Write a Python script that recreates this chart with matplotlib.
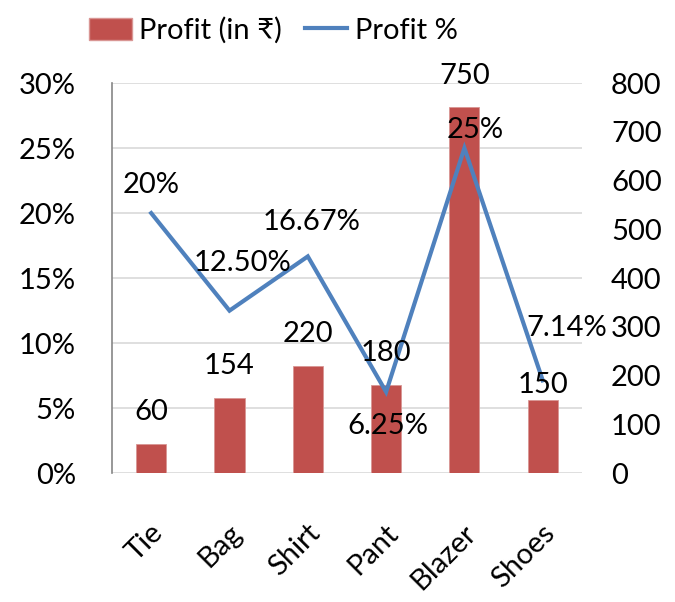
import matplotlib.pyplot as plt
import matplotlib.transforms as mtransforms
from matplotlib.patches import Patch
from matplotlib.lines import Line2D

# ---- data ----
items = ["Tie", "Bag", "Shirt", "Pant", "Blazer", "Shoes"]
profit_rs = [60, 154, 220, 180, 750, 150]
profit_pct = [20, 12.5, 16.67, 6.25, 25, 7.14]
pct_labels = ["20%", "12.50%", "16.67%", "6.25%", "25%", "7.14%"]

pct_ticks = [0, 5, 10, 15, 20, 25, 30]
rs_ticks = [0, 100, 200, 300, 400, 500, 600, 700, 800]

# label offsets in pixels (dx, dy) -- hand placed like the original
BAR_OFFS = [(0, 32), (0, 32), (0, 32), (0, 32), (0, 31), (0, 15)]
PCT_OFFS = [(0, 28), (13, 48), (4, 34), (2, -34), (11, 18), (24, 52)]

BAR_C = "#C0504D"
LINE_C = "#4F81BD"
GRID_C = "#D9D9D9"
FS = 21

plt.rcParams["font.family"] = ["Lato", "DejaVu Sans"]

fig = plt.figure(figsize=(6.75, 6.02), dpi=100)
ax = fig.add_axes([0.166, 0.214, 0.696, 0.648])   # percent axis (grid, behind)
ax2 = ax.twinx()                                   # rupee axis (bars + line)

x = list(range(len(items)))

ax.set_xlim(-0.5, len(items) - 0.5)
ax.set_ylim(0, 30)
ax2.set_ylim(0, 800)

ax.set_yticks(pct_ticks)
ax.set_yticklabels([f"{t}%" for t in pct_ticks], fontsize=FS)
ax2.set_yticks(rs_ticks)
ax2.set_yticklabels([str(t) for t in rs_ticks], fontsize=FS)

ax.grid(axis="y", color=GRID_C, linewidth=1.2)
ax.set_axisbelow(True)

for a in (ax, ax2):
    for s in ("top", "right", "bottom"):
        a.spines[s].set_visible(False)
    a.tick_params(length=0)
ax2.spines["left"].set_visible(False)
ax.spines["left"].set_color("#868686")
ax.spines["left"].set_linewidth(1.2)
ax.tick_params(axis="y", pad=26)
ax2.tick_params(axis="y", pad=21)

# bars
ax2.bar(x, profit_rs, width=0.385, color=BAR_C, edgecolor="#D99694", linewidth=0.6, zorder=2)

# line drawn in ax2 but using the percent axis coordinates
ax2.plot(x, profit_pct, color=LINE_C, linewidth=3.0, transform=ax.transData,
         solid_joinstyle="miter", zorder=3)

px = 72 / fig.dpi
for xi, v, (dx, dy) in zip(x, profit_rs, BAR_OFFS):
    ax2.annotate(str(v), (xi, v), xytext=(dx * px, dy * px), textcoords="offset points",
                 ha="center", va="center", fontsize=FS, zorder=4)
for xi, v, lab, (dx, dy) in zip(x, profit_pct, pct_labels, PCT_OFFS):
    ax2.annotate(lab, (xi, v), xycoords=ax.transData, xytext=(dx * px, dy * px),
                 textcoords="offset points", ha="center", va="center", fontsize=FS, zorder=4)

ax.set_xticks(x)
ax.set_xticklabels(items, fontsize=FS, rotation=45, ha="right", va="center",
                   rotation_mode="anchor")
ax.tick_params(axis="x", pad=40)
shift = mtransforms.ScaledTranslation(8 / fig.dpi, 0, fig.dpi_scale_trans)
for lbl in ax.get_xticklabels():
    lbl.set_transform(lbl.get_transform() + shift)

handles = [Patch(facecolor=BAR_C, edgecolor="#D99694", label="Profit (in ₹)"),
           Line2D([0], [0], color=LINE_C, linewidth=3.0, label="Profit %")]
fig.legend(handles=handles, loc="upper center", bbox_to_anchor=(0.405, 1.015), ncol=2,
           frameon=False, fontsize=FS, handlelength=1.45, handleheight=0.8,
           handletextpad=0.25, columnspacing=0.8)

fig.savefig("out.png", dpi=100)
